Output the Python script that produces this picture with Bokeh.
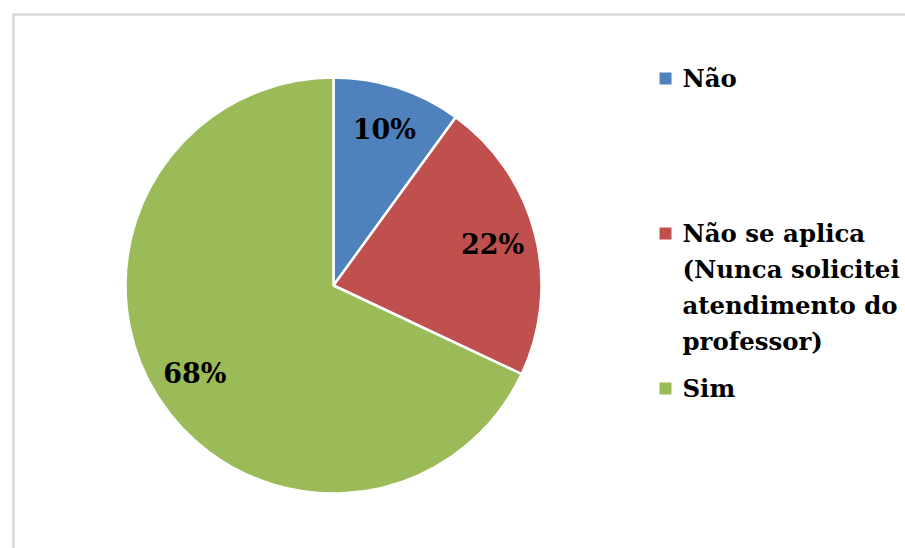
from bokeh.plotting import figure
from bokeh.models import Range1d
from bokeh.core.properties import value
from bokeh.embed import file_html
from bokeh.resources import INLINE
import math

categories = ["Não", "Não se aplica\n(Nunca solicitei\natendimento do\nprofessor)", "Sim"]
shares = [10, 22, 68]
labels = ["10%", "22%", "68%"]
colors = ["#4F81BD", "#C0504D", "#9BBB59"]

W, H = 905, 548
p = figure(width=W, height=H, output_backend="svg", toolbar_location=None,
           x_range=Range1d(0, W), y_range=Range1d(0, H),
           x_axis_location=None, y_axis_location=None, min_border=0,
           tools="")
p.grid.visible = False
p.outline_line_color = None
p.background_fill_color = "white"
p.border_fill_color = "white"

def sy(y):
    return H - y

# frame border (clipped on right and bottom)
p.line([13, 13, 1000], [sy(700), sy(14), sy(14)], line_color="#d9d9d9", line_width=2.5)

cx, cy, R = 333, sy(285), 208
total = sum(shares)
cum = 0.0
starts, ends, mids = [], [], []
for s in shares:
    a0 = math.pi / 2 - 2 * math.pi * cum / total
    cum += s
    a1 = math.pi / 2 - 2 * math.pi * cum / total
    starts.append(a0)
    ends.append(a1)
    mids.append((a0 + a1) / 2)

p.wedge(x=[cx] * 3, y=[cy] * 3, radius=R, start_angle=starts, end_angle=ends,
        direction="clock", fill_color=colors, line_color="white", line_width=2.5)

lr = 0.79 * R
p.text(x=[cx + lr * math.cos(m) for m in mids], y=[cy + lr * math.sin(m) for m in mids],
       text=labels, text_font=value("DejaVu Serif"), text_font_style="bold",
       text_font_size="27px", text_align="center", text_baseline="middle", text_color="black")

# legend
leg_y = [78, 233, 388]
p.scatter(x=[665] * 3, y=[sy(v) for v in leg_y], marker="square", size=12,
          fill_color=colors, line_color=None)
tx, ty, tt = [], [], []
for lab, y0 in zip(categories, leg_y):
    for i, line in enumerate(lab.split("\n")):
        tx.append(682)
        ty.append(sy(y0 + i * 36))
        tt.append(line)
p.text(x=tx, y=ty, text=tt, text_font=value("DejaVu Serif"), text_font_style="bold",
       text_font_size="24.4px", text_align="left", text_baseline="middle", text_color="black")

open("out.html", "w").write(file_html(p, INLINE))
